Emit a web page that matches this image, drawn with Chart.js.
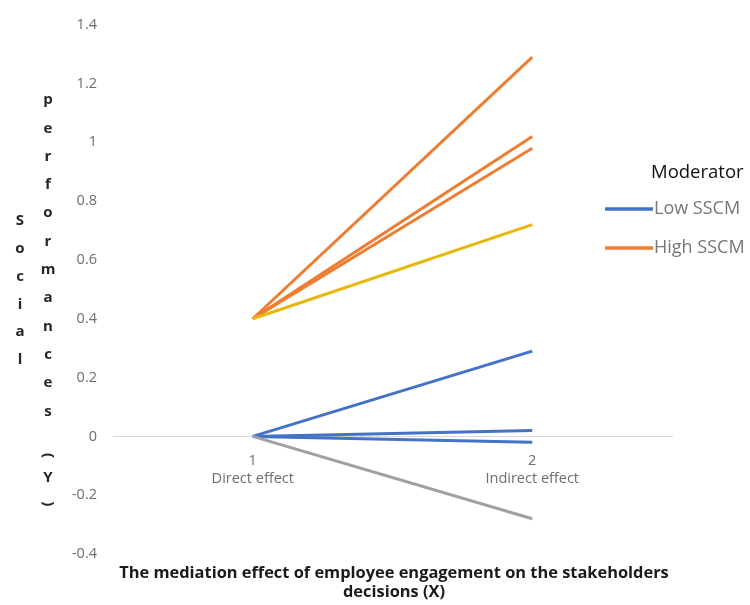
<!DOCTYPE html>
<html>
<head>
<meta charset="utf-8">
<script src="https://cdn.jsdelivr.net/npm/chart.js@4.4.0/dist/chart.umd.min.js"></script>
<style>
  html, body { margin: 0; padding: 0; background: #ffffff; }
  #wrap { width: 750px; height: 605px; }
</style>
</head>
<body>
<div id="wrap"><canvas id="c" width="750" height="605"></canvas></div>
<script>
// Categories on the x axis
const categories = [1, 2];
const categoryNames = ['Direct effect', 'Indirect effect'];

// Y axis ticks
const yTicks = [-0.4, -0.2, 0, 0.2, 0.4, 0.6, 0.8, 1, 1.2, 1.4];

// Slopes (value at category 1, value at category 2)
const highLine1 = [0.4, 1.29];
const highLine2 = [0.4, 1.02];
const highLine3 = [0.4, 0.98];
const goldLine = [0.4, 0.72];
const lowLine1 = [0, 0.29];
const lowLine2 = [0, 0.02];
const lowLine3 = [0, -0.02];
const grayLine = [0, -0.28];

// Legend
const legendTitle = 'Moderator';
const legendLabels = ['Low SSCM', 'High SSCM'];

// Axis titles
const yTitleColumns = ['Social', 'performances (Y)'];
const xTitleLines = ['The mediation effect of employee engagement on the stakeholders', 'decisions (X)'];

const BLUE = '#4472C4';
const ORANGE = '#ED7D31';
const GOLD = '#E9B60C';
const GRAY = '#A0A0A0';
const legendColors = [BLUE, ORANGE];

function pts(vals) {
  return categories.map((c, i) => ({ x: c, y: vals[i] }));
}
function ds(vals, color) {
  return {
    data: pts(vals),
    borderColor: color,
    backgroundColor: color,
    borderWidth: 3,
    pointRadius: 0,
    fill: false,
    tension: 0
  };
}

const FONT = '"Open Sans", Lato, sans-serif';

// Stacked-letter y title (two columns) and the two-line x title
const titlesPlugin = {
  id: 'axisTitles',
  afterDraw(chart) {
    const ctx = chart.ctx;
    ctx.save();
    ctx.fillStyle = '#262626';
    ctx.font = 'bold 15px ' + FONT;
    ctx.textAlign = 'center';
    ctx.textBaseline = 'middle';
    const cols = [
      { x: 20, y0: 221, step: 27.8 },
      { x: 48, y0: 100, step: 28.3 }
    ];
    yTitleColumns.forEach((txt, ci) => {
      const col = cols[ci];
      let y = col.y0;
      for (const ch of txt) {
        if (ch === ' ') { y += 18; continue; }
        if (ch === '(' || ch === ')') {
          ctx.save();
          ctx.translate(col.x, y - 2);
          ctx.rotate(Math.PI / 2);
          ctx.fillText(ch, 0, 0);
          ctx.restore();
          y += 20;
          continue;
        }
        ctx.fillText(ch, col.x, y);
        y += col.step;
      }
    });
    ctx.font = 'bold 16.4px ' + FONT;
    ctx.fillStyle = '#1a1a1a';
    xTitleLines.forEach((line, i) => {
      ctx.fillText(line, 394, 573 + i * 19);
    });
    ctx.restore();
  }
};

// Legend with title, drawn over the right side
const legendPlugin = {
  id: 'moderatorLegend',
  afterDraw(chart) {
    const ctx = chart.ctx;
    ctx.save();
    ctx.textBaseline = 'middle';
    ctx.textAlign = 'left';
    ctx.fillStyle = '#111111';
    ctx.font = '18.5px ' + FONT;
    ctx.fillText(legendTitle, 651, 173);
    ctx.font = '18px ' + FONT;
    legendLabels.forEach((lab, i) => {
      const y = 209 + i * 39;
      ctx.strokeStyle = legendColors[i];
      ctx.lineWidth = 3.5;
      ctx.beginPath();
      ctx.moveTo(605, y);
      ctx.lineTo(653, y);
      ctx.stroke();
      ctx.fillStyle = '#767676';
      ctx.fillText(lab, 654, y);
    });
    ctx.restore();
  }
};

new Chart(document.getElementById('c'), {
  type: 'line',
  data: {
    datasets: [
      ds(grayLine, GRAY),
      ds(lowLine3, BLUE),
      ds(lowLine2, BLUE),
      ds(lowLine1, BLUE),
      ds(goldLine, GOLD),
      ds(highLine3, ORANGE),
      ds(highLine2, ORANGE),
      ds(highLine1, ORANGE)
    ]
  },
  options: {
    responsive: false,
    animation: false,
    devicePixelRatio: 1,
    layout: { padding: { left: 60, right: 78, top: 21, bottom: 51 } },
    plugins: {
      legend: { display: false },
      tooltip: { enabled: false },
      title: { display: false }
    },
    scales: {
      x: {
        type: 'linear',
        position: { y: 0 },
        min: 0.5,
        max: 2.5,
        afterBuildTicks(scale) {
          scale.ticks = categories.map(v => ({ value: v }));
        },
        grid: { display: false, drawTicks: false },
        border: { display: true, color: '#d9d9d9', width: 1 },
        ticks: {
          autoSkip: false,
          maxRotation: 0,
          padding: 15,
          color: '#6e6e6e',
          font: { family: FONT, size: 14.5, lineHeight: 1.25 },
          callback(v) {
            const i = categories.indexOf(v);
            return [String(v), categoryNames[i]];
          }
        }
      },
      y: {
        type: 'linear',
        min: -0.4,
        max: 1.4,
        afterBuildTicks(scale) {
          scale.ticks = yTicks.map(v => ({ value: v }));
        },
        afterFit(scale) { scale.width = 53; },
        grid: { display: false, drawTicks: false },
        border: { display: false },
        ticks: {
          padding: 16,
          color: '#6e6e6e',
          font: { family: FONT, size: 14.5 },
          callback(v) { return String(Number(v.toFixed(1))); }
        }
      }
    }
  },
  plugins: [titlesPlugin, legendPlugin]
});
</script>
</body>
</html>
